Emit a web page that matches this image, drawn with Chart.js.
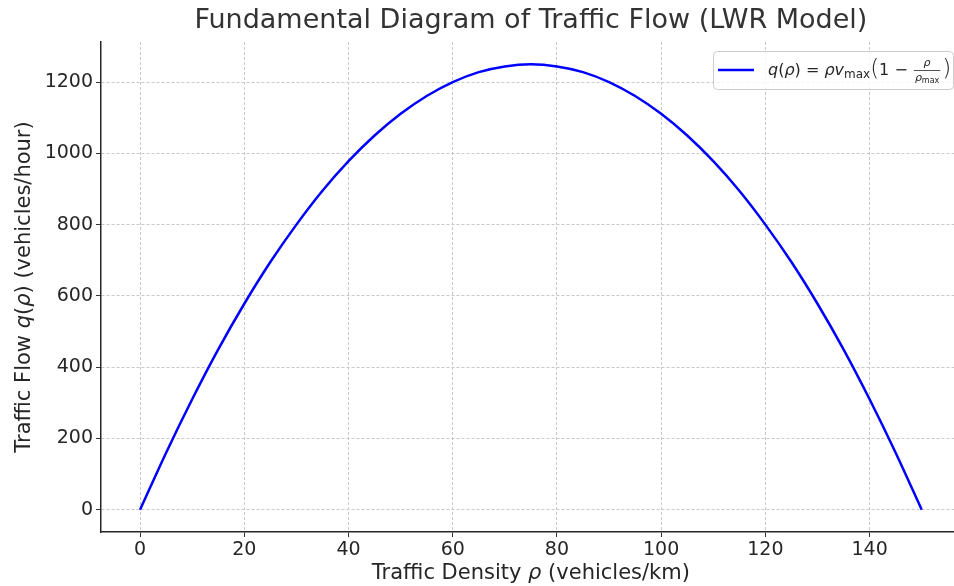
<!DOCTYPE html>
<html lang="en">
<head>
    <meta charset="UTF-8">
    <title>Fundamental Diagram of Traffic Flow</title>
    <script src="https://cdn.jsdelivr.net/npm/chart.js"></script>
    <style>
        body { margin: 0; background: #ffffff; }
        canvas { display: block; }
    </style>
</head>
<body>
    <canvas id="flowChart" width="954" height="586"></canvas>

    <script>
        // values (vehicles/km -> vehicles/hour)
        const densityKm = [0, 5, 10, 15, 20, 25, 30, 35, 40, 45, 50, 55, 60, 65, 70, 75,
                           80, 85, 90, 95, 100, 105, 110, 115, 120, 125, 130, 135, 140, 145, 150];
        const flowVph = [0, 160, 310, 450, 578, 695, 800, 895, 978, 1050, 1111, 1161, 1200, 1228, 1244, 1250,
                         1244, 1228, 1200, 1161, 1111, 1050, 978, 895, 800, 695, 578, 450, 310, 160, 0];
        const xTickValues = [0, 20, 40, 60, 80, 100, 120, 140];
        const yTickValues = [0, 200, 400, 600, 800, 1000, 1200];

        const FONT = '"DejaVu Sans"';
        const TEXT = '#262626';

        function drawRuns(ctx, runs, x, y, align) {
            let total = 0;
            runs.forEach(r => { ctx.font = r.font; total += ctx.measureText(r.text).width; });
            let cur = align === 'center' ? x - total / 2 : x;
            ctx.textAlign = 'left';
            ctx.textBaseline = 'alphabetic';
            runs.forEach(r => {
                ctx.font = r.font;
                ctx.fillText(r.text, cur, y + (r.dy || 0));
                cur += ctx.measureText(r.text).width;
            });
            return cur;
        }

        const n = (s) => s + 'px ' + FONT;
        const it = (s) => 'italic ' + s + 'px ' + FONT;

        const decorPlugin = {
            id: 'decor',
            afterDraw(chart) {
                const { ctx } = chart;
                const xs = chart.scales.x;
                const cx = xs.getPixelForValue(75);
                ctx.save();

                // title
                ctx.fillStyle = '#333333';
                ctx.font = n(27);
                ctx.textAlign = 'center';
                ctx.textBaseline = 'middle';
                ctx.fillText('Fundamental Diagram of Traffic Flow (LWR Model)', cx, 21);

                // x axis label
                ctx.fillStyle = TEXT;
                drawRuns(ctx, [
                    { text: 'Traffic Density ', font: n(21) },
                    { text: 'ρ', font: it(21) },
                    { text: ' (vehicles/km)', font: n(21) }
                ], cx, 579, 'center');

                // y axis label
                ctx.save();
                ctx.translate(30, (chart.chartArea.top + chart.chartArea.bottom) / 2);
                ctx.rotate(-Math.PI / 2);
                drawRuns(ctx, [
                    { text: 'Traffic Flow ', font: n(21) },
                    { text: 'q', font: it(21) },
                    { text: '(', font: n(21) },
                    { text: 'ρ', font: it(21) },
                    { text: ')', font: n(21) },
                    { text: ' (vehicles/hour)', font: n(21) }
                ], 0, 0, 'center');
                ctx.restore();

                // legend
                ctx.beginPath();
                ctx.roundRect(713.5, 51.5, 240, 38, 4);
                ctx.fillStyle = 'rgba(255,255,255,0.8)';
                ctx.fill();
                ctx.strokeStyle = '#cccccc';
                ctx.lineWidth = 1;
                ctx.stroke();

                ctx.beginPath();
                ctx.moveTo(718, 70);
                ctx.lineTo(754, 70);
                ctx.strokeStyle = '#0000ff';
                ctx.lineWidth = 2.5;
                ctx.stroke();

                ctx.fillStyle = TEXT;
                const base = 75;
                let px = drawRuns(ctx, [
                    { text: 'q', font: it(16) },
                    { text: '(', font: n(16) },
                    { text: 'ρ', font: it(16) },
                    { text: ') = ', font: n(16) },
                    { text: 'ρv', font: it(16) },
                    { text: 'max', font: n(12), dy: 3 },
                    { text: '(', font: '200 23px ' + FONT, dy: 1 },
                    { text: '1 − ', font: n(16) }
                ], 768, base, 'left');

                ctx.font = it(11);
                const wRho = ctx.measureText('ρ').width;
                ctx.font = n(8);
                const wMax = ctx.measureText('max').width;
                const fw = wRho + wMax + 2;
                const fx = px + 1;
                ctx.font = it(11);
                ctx.fillText('ρ', fx + (fw - wRho) / 2, 66);
                ctx.beginPath();
                ctx.moveTo(fx, 70.5);
                ctx.lineTo(fx + fw, 70.5);
                ctx.strokeStyle = TEXT;
                ctx.lineWidth = 0.8;
                ctx.stroke();
                drawRuns(ctx, [
                    { text: 'ρ', font: it(11) },
                    { text: 'max', font: n(8), dy: 2 }
                ], fx + 1, 81, 'left');
                drawRuns(ctx, [{ text: ')', font: '200 23px ' + FONT }], fx + fw + 2, base + 1, 'left');

                ctx.restore();
            }
        };

        const gridStyle = {
            color: '#c8c8c8',
            lineWidth: 1,
            tickColor: '#333333',
            tickLength: 5,
            tickWidth: 1,
            tickBorderDash: []
        };
        const borderStyle = { color: '#262626', width: 1.5, dash: [3, 2] };
        const tickFont = { family: 'DejaVu Sans', size: 19 };

        const flowChart = new Chart(document.getElementById('flowChart'), {
            type: 'line',
            data: {
                datasets: [{
                    label: 'q(ρ) = ρ v_max (1 − ρ/ρ_max)',
                    data: densityKm.map((d, i) => ({ x: d, y: flowVph[i] })),
                    borderColor: '#0000ff',
                    borderWidth: 2.5,
                    pointRadius: 0,
                    cubicInterpolationMode: 'monotone',
                    fill: false
                }]
            },
            options: {
                responsive: false,
                animation: false,
                layout: { padding: { top: 42, left: 0, right: 0, bottom: 0 } },
                plugins: {
                    legend: { display: false },
                    title: { display: false },
                    tooltip: { enabled: false }
                },
                scales: {
                    x: {
                        type: 'linear',
                        min: -7.5,
                        max: 156.2,
                        afterBuildTicks: s => { s.ticks = xTickValues.map(v => ({ value: v })); },
                        afterFit: s => { s.height = 54; },
                        grid: gridStyle,
                        border: borderStyle,
                        ticks: { color: TEXT, font: tickFont, padding: 2, maxRotation: 0, callback: v => String(v) }
                    },
                    y: {
                        type: 'linear',
                        min: -62.5,
                        max: 1312.5,
                        afterBuildTicks: s => { s.ticks = yTickValues.map(v => ({ value: v })); },
                        afterFit: s => { s.width = 101; },
                        grid: gridStyle,
                        border: borderStyle,
                        ticks: { color: TEXT, font: tickFont, padding: 3, callback: v => String(v) }
                    }
                }
            },
            plugins: [decorPlugin]
        });
    </script>
</body>
</html>
